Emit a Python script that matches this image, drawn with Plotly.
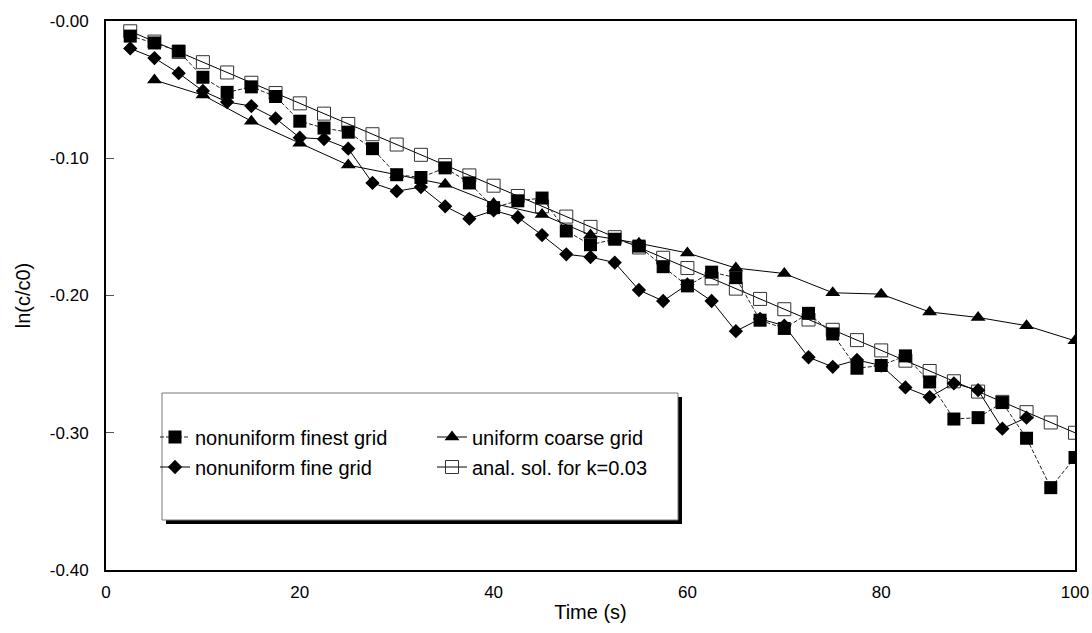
import plotly.graph_objects as go

# ---- data ----
time_fine = [2.5, 5, 7.5, 10, 12.5, 15, 17.5, 20, 22.5, 25, 27.5, 30, 32.5, 35, 37.5, 40,
             42.5, 45, 47.5, 50, 52.5, 55, 57.5, 60, 62.5, 65, 67.5, 70, 72.5, 75, 77.5, 80,
             82.5, 85, 87.5, 90, 92.5, 95, 97.5, 100]

finest_grid = [-0.011, -0.016, -0.022, -0.041, -0.052, -0.048, -0.055, -0.073, -0.078, -0.081,
               -0.093, -0.112, -0.114, -0.107, -0.118, -0.136, -0.131, -0.129, -0.153, -0.163,
               -0.159, -0.164, -0.179, -0.193, -0.183, -0.187, -0.218, -0.224, -0.213, -0.228,
               -0.253, -0.251, -0.244, -0.263, -0.290, -0.289, -0.278, -0.304, -0.340, -0.318]

time_fine_grid = [2.5, 5, 7.5, 10, 12.5, 15, 17.5, 20, 22.5, 25, 27.5, 30, 32.5, 35, 37.5, 40,
                  42.5, 45, 47.5, 50, 52.5, 55, 57.5, 60, 62.5, 65, 67.5, 70, 72.5, 75, 77.5, 80,
                  82.5, 85, 87.5, 90, 92.5, 95]
fine_grid = [-0.020, -0.027, -0.038, -0.051, -0.059, -0.062, -0.071, -0.085, -0.086, -0.093,
             -0.118, -0.124, -0.121, -0.135, -0.144, -0.138, -0.143, -0.156, -0.170, -0.172,
             -0.176, -0.196, -0.204, -0.192, -0.204, -0.226, -0.217, -0.222, -0.245, -0.252,
             -0.247, -0.251, -0.267, -0.274, -0.264, -0.269, -0.297, -0.289]

time_coarse = [5, 10, 15, 20, 25, 30, 35, 40, 45, 50, 55, 60, 65, 70, 75, 80, 85, 90, 95, 100]
coarse_grid = [-0.043, -0.054, -0.073, -0.089, -0.105, -0.112, -0.119, -0.133, -0.141, -0.156,
               -0.162, -0.169, -0.180, -0.184, -0.198, -0.199, -0.212, -0.216, -0.222, -0.233]

anal_sol = [-0.0075, -0.015, -0.0225, -0.030, -0.0375, -0.045, -0.0525, -0.060, -0.0675, -0.075,
            -0.0825, -0.090, -0.0975, -0.105, -0.1125, -0.120, -0.1275, -0.135, -0.1425, -0.150,
            -0.1575, -0.165, -0.1725, -0.180, -0.1875, -0.195, -0.2025, -0.210, -0.2175, -0.225,
            -0.2325, -0.240, -0.2475, -0.255, -0.2625, -0.270, -0.2775, -0.285, -0.2925, -0.300]

y_tickvals = [0, -0.1, -0.2, -0.3, -0.4]
y_ticktext = ["-0.00", "-0.10", "-0.20", "-0.30", "-0.40"]
x_tickvals = [0, 20, 40, 60, 80, 100]

FONT = "Liberation Sans, Arial, sans-serif"

fig = go.Figure()

fig.add_trace(go.Scatter(
    x=time_fine, y=anal_sol, mode="lines+markers", name="anal. sol. for k=0.03",
    line=dict(color="black", width=1),
    marker=dict(symbol="square-open", size=13, color="#333333", line=dict(width=1)),
    legend="legend4", showlegend=True))

fig.add_trace(go.Scatter(
    x=time_coarse, y=coarse_grid, mode="lines+markers", name="uniform coarse grid",
    line=dict(color="black", width=1),
    marker=dict(symbol="triangle-up", size=13, color="black"),
    legend="legend2", showlegend=True))

fig.add_trace(go.Scatter(
    x=time_fine_grid, y=fine_grid, mode="lines+markers", name="nonuniform fine grid",
    line=dict(color="black", width=1),
    marker=dict(symbol="diamond", size=11, color="black"),
    legend="legend3", showlegend=True))

fig.add_trace(go.Scatter(
    x=time_fine, y=finest_grid, mode="lines+markers", name="nonuniform finest grid",
    line=dict(color="#222222", width=1, dash="4px,2px"),
    marker=dict(symbol="square", size=13, color="black"),
    legend="legend5", showlegend=True))

# plot area in pixels: left 106, right 1075, top 21, bottom 570
W, H = 1092, 633
L, R, T, B = 106, 17, 21, 63
pw, ph = W - L - R, H - T - B


def px_x(p):
    return (p - L) / pw


def px_y(p):
    return (H - B - p) / ph


leg_common = dict(xanchor="left", yanchor="middle", bgcolor="rgba(0,0,0,0)", borderwidth=0,
                  font=dict(family=FONT, size=20, color="black"), itemwidth=30)

# legend box with shadow
box = (162, 393, 678, 520)
fig.add_shape(type="rect", xref="paper", yref="paper",
              x0=px_x(box[0] + 4), x1=px_x(box[2] + 4), y0=px_y(box[3] + 4), y1=px_y(box[1] + 4),
              fillcolor="black", line=dict(width=0), layer="above")
fig.add_shape(type="rect", xref="paper", yref="paper",
              x0=px_x(box[0]), x1=px_x(box[2]), y0=px_y(box[3]), y1=px_y(box[1]),
              fillcolor="white", line=dict(color="#777777", width=1), layer="above")

fig.update_layout(
    width=W, height=H,
    showlegend=True,
    margin=dict(l=L, r=R, t=T, b=B, autoexpand=False),
    paper_bgcolor="white", plot_bgcolor="white",
    font=dict(family=FONT, size=17, color="black"),
    legend=dict(x=px_x(155), y=px_y(437), visible=False, **leg_common),
    legend5=dict(x=px_x(155), y=px_y(437), **leg_common),
    legend2=dict(x=px_x(432), y=px_y(437), **leg_common),
    legend3=dict(x=px_x(155), y=px_y(467), **leg_common),
    legend4=dict(x=px_x(432), y=px_y(467), **leg_common),
    xaxis=dict(range=[0, 100], tickvals=x_tickvals, showgrid=False, zeroline=False,
               showline=True, linecolor="black", linewidth=2, mirror=True,
               ticks="", ticklabelstandoff=6,
               title=dict(text="Time (s)", font=dict(size=20), standoff=4),
               tickfont=dict(size=17)),
    yaxis=dict(range=[-0.40, 0.0], tickvals=y_tickvals, ticktext=y_ticktext, showgrid=False,
               zeroline=False, showline=True, linecolor="black", linewidth=2, mirror=True,
               ticks="inside", ticklen=8, tickcolor="#555555", ticklabelstandoff=12,
               title=dict(text="ln(c/c0)", font=dict(size=20), standoff=14),
               tickfont=dict(size=17)),
)

fig.write_html("out.html")
